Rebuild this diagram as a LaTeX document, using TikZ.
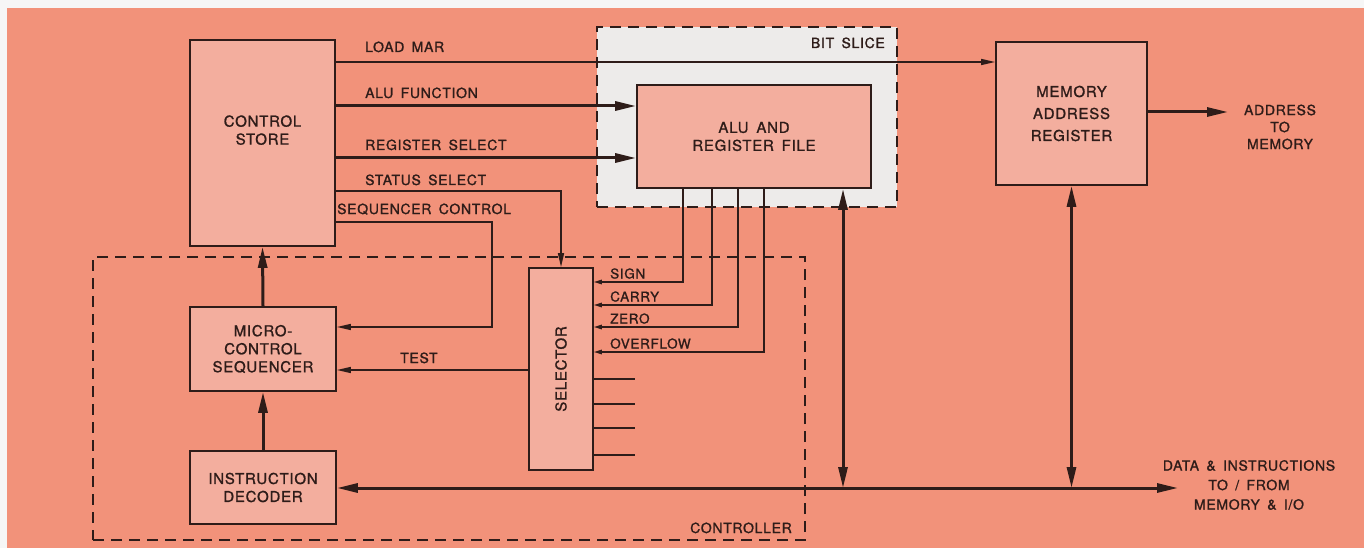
\documentclass[tikz,border=0pt]{standalone}
\usepackage{fontspec}
\setmainfont{TeX Gyre Heros}[LetterSpace=5,WordSpace=1.6,FakeBold=1.2]
\usepackage{graphicx}
\usetikzlibrary{arrows.meta}
\definecolor{sheetOrange}{HTML}{F2927A}
\definecolor{boxPink}{HTML}{F3AE9E}
\definecolor{sliceGrey}{HTML}{EDEBEA}
\definecolor{inkBrown}{HTML}{2E1C19}

\begin{document}
\begin{tikzpicture}[
  x=1pt,y=-1pt,
  font=\fontsize{15}{18}\selectfont,
  box/.style={rectangle,draw=inkBrown,fill=boxPink,line width=1.7pt,align=center,inner sep=0pt,text=inkBrown},
  group/.style={rectangle,draw=inkBrown,line width=1.7pt,dash pattern=on 11pt off 7pt,inner sep=0pt},
  sig/.style={draw=inkBrown,line width=1.5pt,-{Triangle[length=14pt,width=6pt]}},
  flag/.style={draw=inkBrown,line width=1.5pt,-{Triangle[length=8pt,width=4.5pt]}},
  stub/.style={draw=inkBrown,line width=1.5pt},
  bus/.style={draw=inkBrown,line width=3pt,-{Triangle[length=21pt,width=9pt]}},
  dbus/.style={bus,{Triangle[length=21pt,width=9pt]}-{Triangle[length=21pt,width=9pt]}},
  lbl/.style={anchor=base west,inner sep=0pt,text=inkBrown,font=\fontsize{14}{17}\selectfont},
  note/.style={align=center,inner sep=0pt,text=inkBrown}
]
\fill[white!93!gray] (0,0) rectangle (1364,548);
\fill[sheetOrange] (7,8) rectangle (1364,548);
\useasboundingbox (0,0) rectangle (1364,548);

\node[group,fill=sliceGrey,minimum width=300,minimum height=180] (slice) at (747,117) {};
\node[lbl,anchor=base east] (slicelbl) at (885,48) {BIT SLICE};
\node[group,minimum width=712,minimum height=283] (ctrl) at (449,398.5) {};
\node[lbl,anchor=base east] (ctrllbl) at (792,533) {CONTROLLER};

\node[box,minimum width=145,minimum height=206] (store) at (262.5,143) {CONTROL\\STORE\\[8pt]~};
\node[box,minimum width=234,minimum height=103] (alu) at (754,136.5) {ALU AND\\REGISTER FILE};
\node[box,minimum width=151,minimum height=143] (mar) at (1071.5,113.5) {MEMORY\\[4pt]ADDRESS\\[4pt]REGISTER};
\node[box,minimum width=146,minimum height=84] (mseq) at (263,349) {MICRO-\\CONTROL\\SEQUENCER};
\node[box,minimum width=146,minimum height=73] (dec) at (263,487.5) {INSTRUCTION\\DECODER};
\node[box,minimum width=64,minimum height=202] (sel) at (561,369) {\rotatebox{90}{SELECTOR}};

\node[note,font=\fontsize{14}{17}\selectfont] (addr) at (1280,127) {ADDRESS\\TO\\MEMORY};
\node[note,font=\fontsize{14}{19.5}\selectfont] (data) at (1249,485) {DATA \& INSTRUCTIONS\\TO / FROM\\MEMORY \& I/O};
\coordinate (addrin) at (1228,112);
\coordinate (busend) at (1178,488);

\draw[sig] (store.east |- 0,62) -- (mar.west |- 0,62);
\node[lbl] (loadlbl) at (365,52) {LOAD MAR};
\draw[bus] (store.east |- 0,106) -- (alu.west |- 0,106);
\node[lbl] (funclbl) at (365,98) {ALU FUNCTION};
\draw[bus] (store.east |- 0,158) -- (alu.west |- 0,158);
\node[lbl] (reglbl) at (365,150) {REGISTER SELECT};
\draw[sig] (store.east |- 0,191) -| (sel.north);
\node[lbl] (statlbl) at (365,185) {STATUS SELECT};
\draw[sig] (store.east |- 0,222) -- (492,222) |- (mseq.east |- 0,327);
\node[lbl] (seqlbl) at (337,214) {SEQUENCER CONTROL};
\draw[sig] (sel.west |- 0,370) -- (mseq.east |- 0,370);
\node[lbl] (testlbl) at (400,363) {TEST};

\draw[bus] (mseq.north) -- (store.south);
\draw[bus] (dec.north) -- (mseq.south);

\foreach \fx/\fy/\ft in {683/282/SIGN,712/305/CARRY,738/327/ZERO,764/352/OVERFLOW}{
  \draw[flag] (alu.south -| \fx,0) |- (sel.east |- 0,\fy);
  \node[lbl,font=\fontsize{13.5}{16}\selectfont] (flag\ft) at (610,\fy-3.5) {\ft};
}
\foreach \uy in {379,404,428,455}
  \draw[stub] (sel.east |- 0,\uy) -- ++(41,0);

\draw[bus] (mar.east |- addrin) -- (addrin);
\draw[dbus] (dec.east |- busend) -- (busend);
\draw[dbus] (alu.south -| 843,0) -- (843,488);
\draw[dbus] (mar.south) -- (mar.south |- busend);
\end{tikzpicture}
\end{document}
